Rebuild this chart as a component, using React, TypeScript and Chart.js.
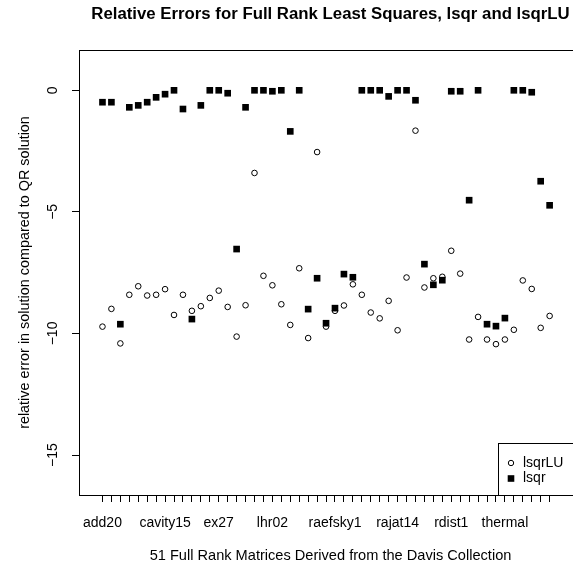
import React, { useEffect, useRef } from 'react';
import { Chart, registerables } from 'chart.js';

Chart.register(...registerables);

// 51 matrices (x positions)
const matrixIndex = [
  1, 2, 3, 4, 5, 6, 7, 8, 9, 10, 11, 12, 13, 14, 15, 16, 17, 18, 19, 20,
  21, 22, 23, 24, 25, 26, 27, 28, 29, 30, 31, 32, 33, 34, 35, 36, 37, 38, 39, 40,
  41, 42, 43, 44, 45, 46, 47, 48, 49, 50, 51,
];

// Tick labels that are visible on the x axis
const tickLabelPositions = [1, 8, 14, 20, 27, 34, 40, 46];
const tickLabelNames = ['add20', 'cavity15', 'ex27', 'lhr02', 'raefsky1', 'rajat14', 'rdist1', 'thermal'];

const yTicks = [-15, -10, -5, 0];

// lsqrLU (open circles)
const lsqrLU = [
  -9.72, -8.99, -10.41, -8.41, -8.06, -8.44, -8.41, -8.18, -9.24, -8.41,
  -9.07, -8.88, -8.54, -8.24, -8.91, -10.13, -8.84, -3.40, -7.63, -8.02,
  -8.80, -9.65, -7.32, -10.19, -2.54, -9.72, -9.07, -8.85, -7.98, -8.41,
  -9.14, -9.38, -8.66, -9.87, -7.70, -1.66, -8.11, -7.73, -7.67, -6.60,
  -7.54, -10.25, -9.32, -10.25, -10.44, -10.25, -9.85, -7.82, -8.17, -9.77,
  -9.28,
];

// lsqr (filled squares)
const lsqr = [
  -0.49, -0.49, -9.62, -0.70, -0.62, -0.49, -0.29, -0.16, 0.0, -0.77,
  -9.41, -0.62, 0.0, 0.0, -0.12, -6.53, -0.70, 0.0, 0.0, -0.04,
  0.0, -1.69, 0.0, -9.00, -7.73, -9.58, -8.96, -7.56, -7.69, 0.0,
  0.0, 0.0, -0.25, 0.0, 0.0, -0.41, -7.15, -8.00, -7.81, -0.04,
  -0.04, -4.52, 0.0, -9.62, -9.70, -9.37, 0.0, 0.0, -0.08, -3.74,
  -4.73,
];

const FONT = "'Liberation Sans', Arial, Helvetica, sans-serif";

export default function App() {
  const ref = useRef<HTMLCanvasElement>(null);

  useEffect(() => {
    const canvas = ref.current;
    if (!canvas) return;

    const framePlugin = {
      id: 'rframe',
      afterDraw(chart: any) {
        const { ctx, chartArea } = chart;
        ctx.save();
        ctx.strokeStyle = '#000';
        ctx.lineWidth = 1;
        ctx.beginPath();
        const y = Math.floor(chartArea.top) + 0.5;
        ctx.moveTo(chartArea.left, y);
        ctx.lineTo(chartArea.right, y);
        ctx.stroke();
        ctx.restore();
      },
    };

    const legendPlugin = {
      id: 'rlegend',
      afterDraw(chart: any) {
        const { ctx, chartArea } = chart;
        const right = chartArea.right;
        const bottom = chartArea.bottom;
        const left = right - 84;
        const top = bottom - 52;
        ctx.save();
        ctx.strokeStyle = '#000';
        ctx.lineWidth = 1;
        ctx.strokeRect(Math.floor(left) + 0.5, Math.floor(top) + 0.5, right - left, bottom - top);
        const rows = [
          { label: 'lsqrLU', y: top + 20, kind: 'circle' },
          { label: 'lsqr', y: top + 35.5, kind: 'rect' },
        ];
        const sx = left + 13;
        for (const r of rows) {
          if (r.kind === 'circle') {
            ctx.beginPath();
            ctx.arc(sx, r.y, 2.7, 0, Math.PI * 2);
            ctx.stroke();
          } else {
            ctx.fillStyle = '#000';
            ctx.fillRect(sx - 3.3, r.y - 3.3, 6.6, 6.6);
          }
          ctx.fillStyle = '#000';
          ctx.font = `14px ${FONT}`;
          ctx.textAlign = 'left';
          ctx.textBaseline = 'middle';
          ctx.fillText(r.label, left + 25, r.y);
        }
        ctx.restore();
      },
    };

    const chart = new Chart(canvas, {
      type: 'scatter',
      data: {
        datasets: [
          {
            label: 'lsqrLU',
            data: matrixIndex.map((x, i) => ({ x, y: lsqrLU[i] })),
            pointStyle: 'circle',
            pointRadius: 2.8,
            pointBorderWidth: 1,
            pointBorderColor: '#000',
            pointBackgroundColor: 'rgba(0,0,0,0)',
            order: 1,
          },
          {
            label: 'lsqr',
            data: matrixIndex.map((x, i) => ({ x, y: lsqr[i] })),
            pointStyle: 'rect',
            pointRadius: 4.7,
            pointBorderWidth: 0,
            pointBorderColor: '#000',
            pointBackgroundColor: '#000',
            order: 0,
          },
        ],
      },
      options: {
        animation: false,
        responsive: false,
        maintainAspectRatio: false,
        devicePixelRatio: 1,
        layout: { padding: 0 },
        events: [],
        plugins: {
          legend: { display: false },
          tooltip: { enabled: false },
          title: {
            display: true,
            text: 'Relative Errors for Full Rank Least Squares, lsqr and lsqrLU',
            color: '#000',
            fullSize: false,
            font: { family: FONT, size: 16.8, weight: 'bold', lineHeight: 1.2 },
            padding: { top: 4, bottom: 25.84 },
          },
        },
        scales: {
          x: {
            type: 'linear',
            min: -1.624,
            max: 54.62,
            afterFit: (scale: any) => {
              scale.height = 71;
            },
            afterBuildTicks: (scale: any) => {
              scale.ticks = matrixIndex.map((v) => ({ value: v }));
            },
            ticks: {
              autoSkip: false,
              maxRotation: 0,
              minRotation: 0,
              color: '#000',
              padding: 12.8,
              font: { family: FONT, size: 14 },
              callback: (value: any) => {
                const k = tickLabelPositions.indexOf(Number(value));
                return k >= 0 ? tickLabelNames[k] : '';
              },
            },
            grid: {
              display: true,
              drawOnChartArea: false,
              drawTicks: true,
              tickLength: 7,
              color: '#000',
              lineWidth: 1,
            },
            border: { display: true, color: '#000', width: 1 },
            title: {
              display: true,
              text: '51 Full Rank Matrices Derived from the Davis Collection',
              color: '#000',
              font: { family: FONT, size: 14.6, lineHeight: 1.2 },
              padding: { top: 0, bottom: 1.3 },
            },
          },
          y: {
            type: 'linear',
            min: -16.645,
            max: 1.6575,
            afterFit: (scale: any) => {
              scale.width = 79;
            },
            afterBuildTicks: (scale: any) => {
              scale.ticks = yTicks.map((v) => ({ value: v }));
            },
            ticks: {
              color: '#000',
              minRotation: 90,
              maxRotation: 90,
              crossAlign: 'center',
              padding: 6.8,
              font: { family: FONT, size: 14 },
              callback: (value: any) => {
                const v = Number(value);
                return v < 0 ? '\u2212' + Math.abs(v) : String(v);
              },
            },
            grid: {
              display: true,
              drawOnChartArea: false,
              drawTicks: true,
              tickLength: 7,
              color: '#000',
              lineWidth: 1,
            },
            border: { display: true, color: '#000', width: 1 },
            title: {
              display: true,
              text: 'relative error in solution compared to QR solution',
              color: '#000',
              font: { family: FONT, size: 14.4, lineHeight: 1.2 },
              padding: { top: 16, bottom: 0 },
            },
          },
        },
      },
      plugins: [framePlugin, legendPlugin],
    } as any);

    return () => {
      chart.destroy();
    };
  }, []);

  return (
    <div
      style={{
        position: 'absolute',
        left: 0,
        top: 0,
        width: 573,
        height: 566,
        overflow: 'hidden',
        background: '#fff',
      }}
    >
      <canvas ref={ref} width={587} height={566} style={{ display: 'block', width: 587, height: 566 }} />
    </div>
  );
}
